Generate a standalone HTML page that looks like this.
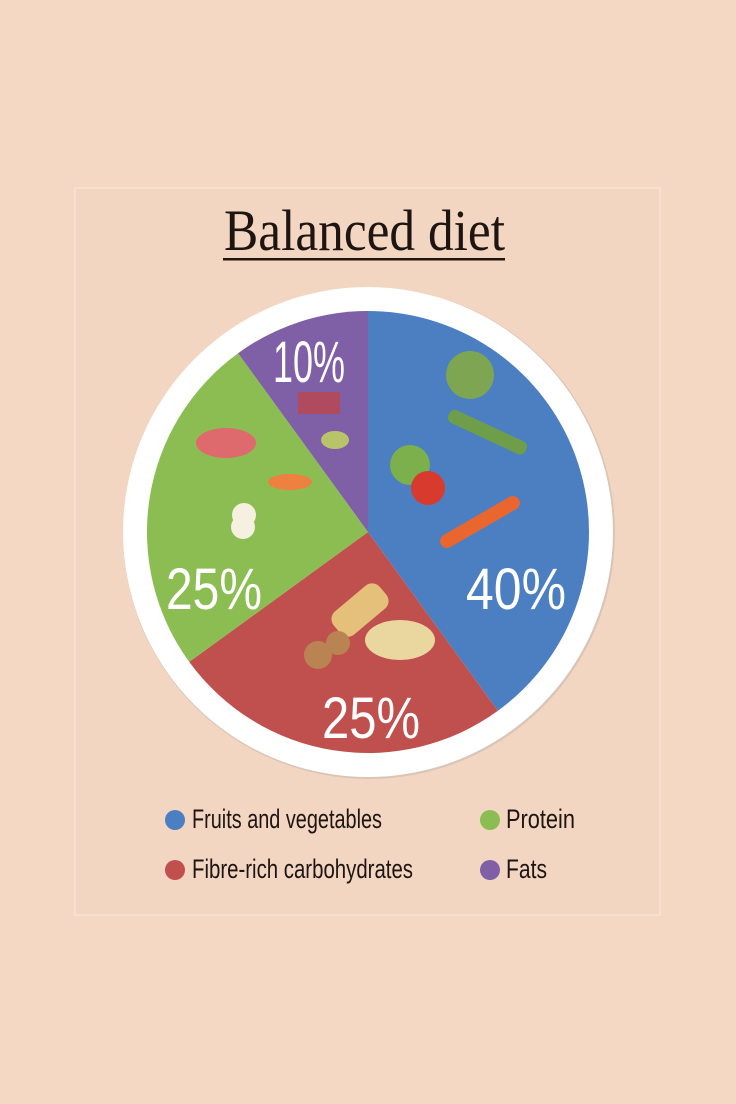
<!DOCTYPE html>
<html><head><meta charset="utf-8"><style>
html,body{margin:0;padding:0;background:#f4d8c4;}
svg{display:block;}
</style></head><body>
<svg width="736" height="1104" viewBox="0 0 736 1104" xmlns="http://www.w3.org/2000/svg">
<rect width="736" height="1104" fill="#f4d8c4"/>
<rect x="75" y="188" width="585" height="727" fill="#f3d6c2" stroke="#f7e2d4" stroke-width="1.5"/>
<text x="224" y="250" font-family="Liberation Serif, serif" font-size="58" fill="#1e1512" textLength="281" lengthAdjust="spacingAndGlyphs">Balanced diet</text>
<rect x="223" y="258" width="282" height="2.5" fill="#1e1512"/>
<circle cx="369" cy="533" r="246" fill="#d9c5b8"/>
<circle cx="368" cy="532" r="245" fill="#ffffff"/>
<path d="M368,532 L368,311 A221,221 0 0 1 497.9,710.8 Z" fill="#4b7fc1"/>
<path d="M368,532 L497.9,710.8 A221,221 0 0 1 189.2,661.9 Z" fill="#c0504e"/>
<path d="M368,532 L189.2,661.9 A221,221 0 0 1 238.1,353.2 Z" fill="#8cbd52"/>
<path d="M368,532 L238.1,353.2 A221,221 0 0 1 368,311 Z" fill="#7f5fa6"/>
<circle cx="470" cy="375" r="24" fill="#7ea552"/>
<rect x="445" y="425" width="85" height="14" rx="6" fill="#6f9e4a" transform="rotate(25 487 432)"/>
<circle cx="410" cy="465" r="20" fill="#7bb04c"/>
<circle cx="428" cy="488" r="17" fill="#d83a2e"/>
<rect x="435" y="515" width="90" height="14" rx="7" fill="#e9662f" transform="rotate(-30 480 522)"/>
<rect x="298" y="392" width="42" height="22" fill="#b04a5e"/>
<ellipse cx="335" cy="440" rx="14" ry="9" fill="#b9c46a"/>
<ellipse cx="226" cy="443" rx="30" ry="15" fill="#de6a6e"/>
<ellipse cx="290" cy="482" rx="22" ry="8" fill="#ee8040"/>
<circle cx="244" cy="515" r="12" fill="#f5f0e0"/><circle cx="243" cy="527" r="12" fill="#f5f0e0"/>
<rect x="330" y="595" width="60" height="30" rx="10" fill="#e5c07a" transform="rotate(-40 360 610)"/>
<ellipse cx="400" cy="640" rx="35" ry="20" fill="#ead7a0"/>
<circle cx="318" cy="655" r="14" fill="#b98451"/><circle cx="338" cy="643" r="12" fill="#b98451"/>
<g font-family="Liberation Sans Narrow, Liberation Sans, sans-serif" fill="#ffffff" font-size="58">
<text x="273" y="382" textLength="72" lengthAdjust="spacingAndGlyphs">10%</text>
<text x="466" y="609" textLength="100" lengthAdjust="spacingAndGlyphs">40%</text>
<text x="166" y="609" textLength="96" lengthAdjust="spacingAndGlyphs">25%</text>
<text x="322" y="738" textLength="98" lengthAdjust="spacingAndGlyphs">25%</text>
</g>
<circle cx="175" cy="820" r="10" fill="#4b7fc1"/>
<circle cx="175" cy="870" r="10" fill="#c0504e"/>
<circle cx="490" cy="820" r="10" fill="#8cbd52"/>
<circle cx="490" cy="870" r="10" fill="#7f5fa6"/>
<g font-family="Liberation Sans Narrow, Liberation Sans, sans-serif" fill="#1e1512" font-size="27">
<text x="192" y="828" textLength="190" lengthAdjust="spacingAndGlyphs">Fruits and vegetables</text>
<text x="192" y="878" textLength="221" lengthAdjust="spacingAndGlyphs">Fibre-rich carbohydrates</text>
<text x="506" y="828" textLength="69" lengthAdjust="spacingAndGlyphs">Protein</text>
<text x="506" y="878" textLength="41" lengthAdjust="spacingAndGlyphs">Fats</text>
</g>
</svg>
</body></html>
